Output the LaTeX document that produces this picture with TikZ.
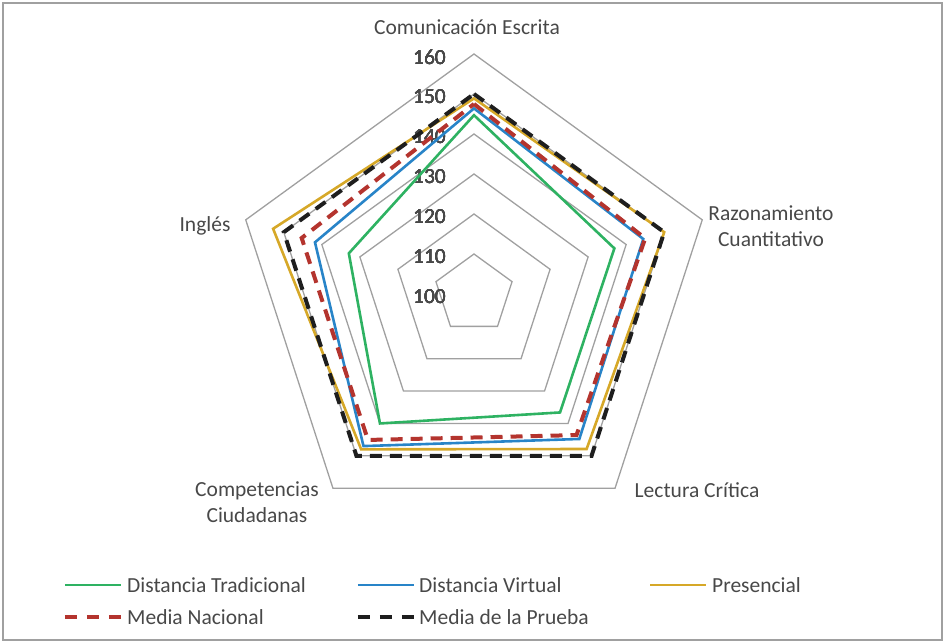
\documentclass[tikz,border=0pt]{standalone}
\usepackage{fontspec}
\setmainfont{Carlito}
\usetikzlibrary{positioning}

\definecolor{txtgray}{RGB}{72,72,72}
\definecolor{gridgray}{RGB}{160,160,160}
\definecolor{tradgreen}{RGB}{46,178,98}
\definecolor{virtblue}{RGB}{40,132,200}
\definecolor{presgold}{RGB}{214,168,40}
\definecolor{nacred}{RGB}{180,52,46}
\definecolor{pruebablack}{RGB}{30,30,30}

\tikzstyle{gridline} = [draw=gridgray, line width=1.3pt]
\tikzstyle{trad} = [draw=tradgreen, line width=2.6pt]
\tikzstyle{virt} = [draw=virtblue, line width=2.6pt]
\tikzstyle{pres} = [draw=presgold, line width=2.6pt]
\tikzstyle{nac} = [draw=nacred, line width=4pt, dash pattern=on 12pt off 8pt]
\tikzstyle{prueba} = [draw=pruebablack, line width=4pt, dash pattern=on 12pt off 8pt]
\tikzstyle{axislabel} = [text=txtgray, font=\fontsize{21.5}{26}\selectfont, align=center, inner sep=0pt]
\tikzstyle{ticklabel} = [text=txtgray, font=\fontsize{21.5}{26}\selectfont, anchor=east, inner sep=0pt]
\tikzstyle{legendtext} = [text=txtgray, font=\fontsize{21.5}{26}\selectfont, anchor=west, inner sep=0pt]

% one pentagon through the five axes, radius from the score
\newcommand{\radarpath}[6]{\draw[#1] (90:{4*(#2-100)}) -- (18:{4*(#3-100)}) -- (-54:{4*(#4-100)}) -- (-126:{4*(#5-100)}) -- (162:{4*(#6-100)}) -- cycle;}

\begin{document}
\begin{tikzpicture}[x=1pt, y=1pt]
	\useasboundingbox (-474,-349) rectangle (471,294);
	\draw[gridgray, line width=1.2pt] (-471,-346) rectangle (468,291);
	% Grid
	\foreach \v in {110,120,...,160}
		\radarpath{gridline}{\v}{\v}{\v}{\v}{\v}
	\foreach \v in {100,110,...,160}
		\node[ticklabel] (tick\v) at (-28,{4*(\v-100)-3}) {\v};
	% Axis names
	\node[axislabel] (comunicacion) at (-7,267) {Comunicación Escrita};
	\node[axislabel] (razonamiento) at (297,68) {Razonamiento\\Cuantitativo};
	\node[axislabel] (lectura) at (223,-196) {Lectura Crítica};
	\node[axislabel] (ciudadanas) at (-217,-208) {Competencias\\Ciudadanas};
	\node[axislabel] (ingles) at (-269,68) {Inglés};
	% Series
	\radarpath{trad}{144.7}{136.9}{136.6}{140.0}{132.9}
	\radarpath{virt}{146.4}{144.5}{144.8}{147.0}{141.8}
	\radarpath{pres}{148.9}{150.0}{147.9}{148.0}{152.8}
	\radarpath{nac}{147.5}{145.0}{143.6}{145.1}{145.3}
	\radarpath{prueba}{150}{150}{150}{150}{150}
	% Legend
	\coordinate (legA) at (-409,-291);
	\coordinate (legB) at (-116,-291);
	\coordinate (legC) at (176,-291);
	\coordinate (legD) at (-409,-323);
	\coordinate (legE) at (-116,-323);
	\node[legendtext] (tradtext) at (-347,-291) {Distancia Tradicional};
	\node[legendtext] (virttext) at (-55,-291) {Distancia Virtual};
	\node[legendtext] (prestext) at (238,-291) {Presencial};
	\node[legendtext] (nactext) at (-347,-323) {Media Nacional};
	\node[legendtext] (pruebatext) at (-55,-323) {Media de la Prueba};
	\draw[trad] (legA) -- ++(56,0);
	\draw[virt] (legB) -- ++(56,0);
	\draw[pres] (legC) -- ++(56,0);
	\draw[nac, dash pattern=on 12pt off 10pt] (legD) -- ++(56,0);
	\draw[prueba, dash pattern=on 12pt off 10pt] (legE) -- ++(56,0);
\end{tikzpicture}
\end{document}
